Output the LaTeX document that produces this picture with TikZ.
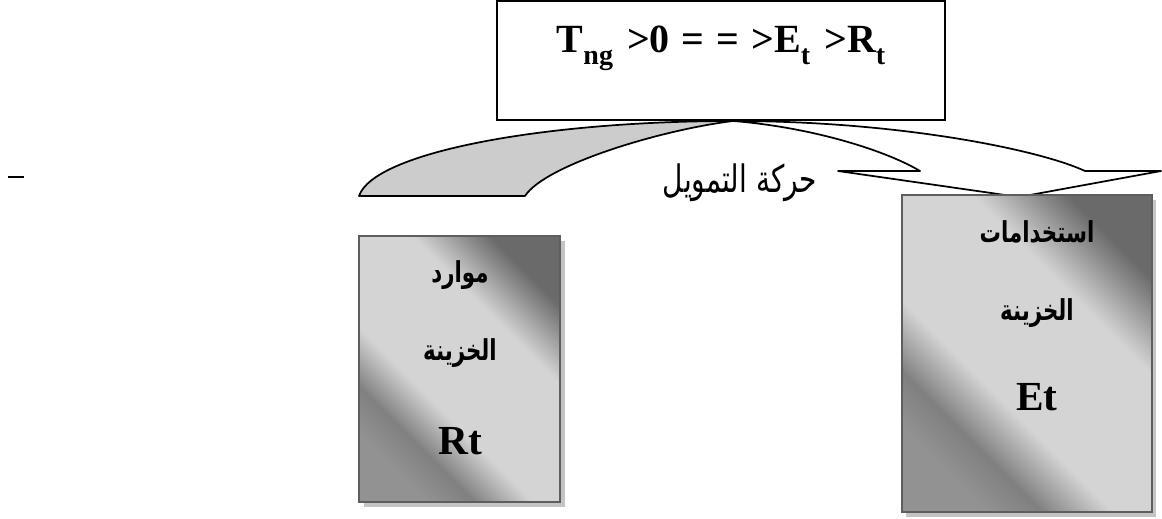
\documentclass[tikz,border=0pt]{standalone}
\usepackage{fontspec}
\setmainfont{Liberation Serif}
\newfontfamily\arabicfont[Script=Arabic]{DejaVu Sans}
\TeXXeTstate=1
\definecolor{dk}{HTML}{6A6A6A}
\definecolor{dkb}{HTML}{808080}
\definecolor{dkc}{HTML}{929292}
\definecolor{lt}{HTML}{D4D4D4}
\definecolor{bordc}{HTML}{5E5E5E}
\definecolor{shadc}{HTML}{C4C4C4}
\definecolor{arrowgray}{HTML}{CCCCCC}
\pgfdeclareverticalshading{boxshade}{100bp}{color(0bp)=(dkc); color(25bp)=(dkc); color(32bp)=(dkb); color(41bp)=(lt); color(63bp)=(lt); color(75bp)=(dk); color(100bp)=(dk)}
\tikzset{
  treasury/.style={shade, shading=boxshade, shading angle=-45, draw=bordc, line width=1.5pt, inner sep=0pt},
  shadowbox/.style={fill=shadc, draw=none, inner sep=0pt},
  titlebox/.style={draw=black, line width=1.5pt, fill=white, inner sep=0pt},
  arlabel/.style={font=\arabicfont\bfseries\fontsize{16}{19}\selectfont, inner sep=0pt},
  latlabel/.style={font=\bfseries\fontsize{31}{34}\selectfont, inner sep=0pt, anchor=base},
  titlelabel/.style={font=\bfseries\fontsize{30}{34}\selectfont, inner sep=0pt, anchor=base},
  bandline/.style={draw=black, line width=1.3pt, line join=round},
}
\newcommand{\lowsub}[1]{\raisebox{-0.3em}{\fontsize{21}{22}\selectfont #1}}
\newcommand{\tallar}[1]{\scalebox{1}[1.35]{#1}}
\begin{document}
\begin{tikzpicture}[x=0.75pt, y=-0.75pt]
\useasboundingbox (0,0) rectangle (1162,518);
% title box
\node[titlebox, minimum width=336pt, minimum height=89.25pt] (title) at (721,60.5) {};
\node[titlelabel] (formula) at (721,52) {T\lowsub{ng}\hspace{0.35em}>0\hspace{0.3em}=\hspace{0.3em}=\hspace{0.3em}>E\lowsub{t}\hspace{0.35em}>R\lowsub{t}};
% curved arrow: grey back part
\path[bandline, fill=arrowgray] (359,196) .. controls (374,152) and (545,121) .. (733,121)
  .. controls (660,130) and (545,165) .. (525,196) -- cycle;
% white front part with head
\path[bandline, fill=white] (733,121) .. controls (900,121) and (1040,150) .. (1085,171)
  -- (1161,171) -- (1019,197) -- (838,171) -- (920,171)
  .. controls (885,150) and (810,127) .. (733,121) -- cycle;
\node[font=\arabicfont\fontsize{21}{24}\selectfont, inner sep=0pt] (move) at (740,183) {\tallar{\beginR حركة التمويل\endR}};
% left dash
\coordinate (d1) at (8,177);
\coordinate (d2) at (24,177);
\draw[line width=1.5pt] (d1) -- (d2);
% left box (resources)
\node[shadowbox, minimum width=150.75pt, minimum height=199.5pt] (rtshadow) at (464,374) {};
\node[treasury, minimum width=150.75pt, minimum height=199.5pt] (rt) at (459.5,369) {};
\node[arlabel] (rt1) at (460,275) {\tallar{\beginR موارد\endR}};
\node[arlabel] (rt2) at (460,353) {\tallar{\beginR الخزينة\endR}};
\node[latlabel] (rt3) at (460,454) {Rt};
% right box (uses)
\node[shadowbox, minimum width=187.5pt, minimum height=237.75pt] (etshadow) at (1031,358) {};
\node[treasury, minimum width=187.5pt, minimum height=237.75pt] (et) at (1027,353.5) {};
\node[arlabel] (et1) at (1037,232) {\tallar{\beginR استخدامات\endR}};
\node[arlabel] (et2) at (1037,313) {\tallar{\beginR الخزينة\endR}};
\node[latlabel] (et3) at (1037,410) {Et};
\end{tikzpicture}
\end{document}
